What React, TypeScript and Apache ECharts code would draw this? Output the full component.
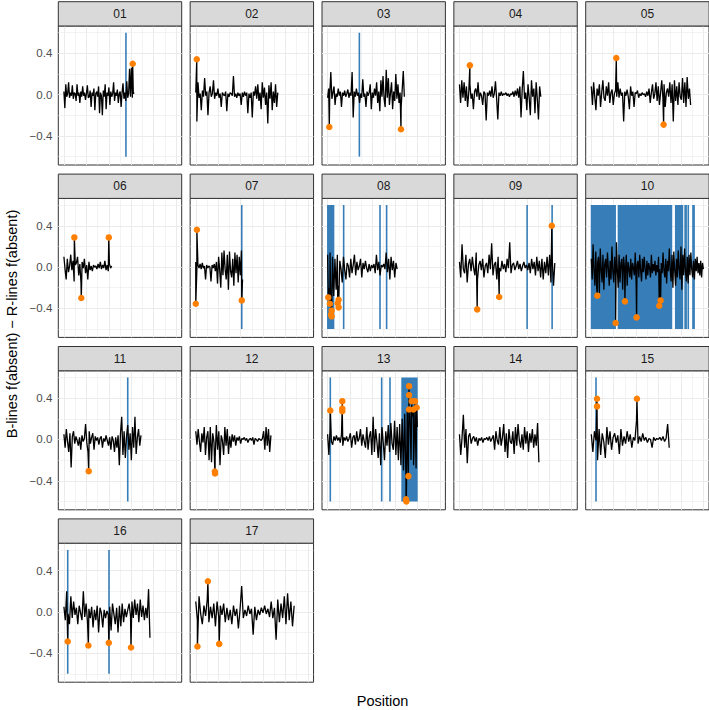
import React, { useEffect, useRef } from "react";
import * as echarts from "echarts";

// ---------------- data ----------------
const panels = ["01","02","03","04","05","06","07","08","09","10","11","12","13","14","15","16","17"];
// relative chromosome length (longest = 1)
const chromEnd = [0.627,0.731,0.684,0.725,0.886,0.426,0.417,0.62,0.85,1.0,0.687,0.67,0.80,0.708,0.695,0.767,0.877];

// difference values along each chromosome, in hundredths (evenly spaced along its length)
const y01 = [3,-13,10,-2,1,12,-3,2,-1,9,-4,2,1,-6,10,-1,2,-8,3,-2,8,-1,2,-5,1,9,-3,-2,4,-12,2,-1,6,-15,1,3,-2,8,-18,2,-1,-20,4,-2,10,-14,2,-1,7,-10,3,-2,1,12,-6,2,-1,5,-8,1,3,-12,2,11,-4,2,-6,13,-3,1,25,-2,26,-3,1,2];
const y02 = [2,-26,12,-3,1,-15,4,-2,16,-1,3,-20,2,8,-2,1,14,-4,2,-1,6,-3,1,-12,2,0,-1,3,-16,1,-2,2,1,-1,18,-2,1,-3,2,-1,1,-10,2,-2,3,-1,2,-18,1,-3,2,-22,3,-1,8,-4,10,-6,2,-14,12,-3,7,-10,2,-28,9,-4,12,-15,3,-8,10,-12,2];
const y03 = [-3,6,-1,22,-4,2,8,-10,1,-2,6,-1,3,-12,2,-1,4,-2,1,5,-3,2,-1,22,-22,3,-2,6,-1,2,-8,1,-3,15,-2,1,-12,3,-1,2,10,-14,2,-3,6,-1,12,-8,3,-16,14,-2,18,-4,-12,24,-3,16,-10,2,12,-14,3,-6,20,-4,10,-8,2,-12,5,23,-2];
const y04 = [10,-8,14,-3,12,-6,8,-12,2,10,-4,1,-14,3,6,-2,12,-5,2,-1,-10,3,1,-25,2,-1,4,-2,8,-3,1,13,-4,-24,2,-1,3,-1,1,0,2,-1,1,-2,1,0,3,-2,4,-1,6,-3,8,-22,5,23,-4,2,-15,10,-3,-20,14,-2,6,-18,12,-4,-24,8,-2];
const y05 = [8,-10,12,-2,-15,6,-1,10,-12,2,14,-3,-6,8,-1,12,-8,2,5,-10,1,4,-2,12,-3,6,-1,2,-26,3,-1,5,-2,-14,8,-1,3,-12,2,1,4,-3,1,-1,2,0,1,-2,3,-1,6,-8,2,10,-4,1,12,-6,8,-10,2,14,-3,10,-12,2,6,-2,12,-8,10,-26,14,-6,8,-10,12,-2,-5,16,-8,12,-12,17,-4,6,-10];
const y06 = [10,-2,-12,8,-5,1,12,-3,6,-14,2,4,10,-8,3,-15,5,-1,8,-6,2,-12,5,-3,1,-4,2,0,1,-2,3,-1,5,-2,2,-1,6,-3,2,-4,3,-1,1];
const y07 = [5,-3,2,-1,3,-2,4,-1,1,-12,2,-1,1,0,-14,2,-1,3,-4,5,-16,10,-3,-20,14,-8,16,-2,-12,12,-22,15,-4,-10,8,-18,14,-6,12,-15,10,-8,16,-12];
const y08 = [12,-20,14,-25,10,-28,8,-22,12,-18,6,-2,-15,10,-3,-12,4,1,-10,8,-6,2,12,-8,5,-3,1,8,-10,4,-2,6,-1,-5,3,-4,2,-1,3,-6,12,-3,5,-8,2,0,3,-2,14,-5,8,-12,10,-3,6,-10,4,-2];
const y09 = [5,-10,22,-2,-6,12,-15,3,8,-4,10,-1,-8,14,-12,2,6,-3,8,-10,1,4,-6,12,-2,23,-8,2,5,-12,10,-1,-4,6,-2,3,-5,8,-1,24,-6,2,4,-3,1,6,-2,3,-4,1,5,-1,2,-3,4,-6,8,-2,5,-8,10,-4,6,-10,8,-12,5,-6,10,-8,12,-15,8,-18,4];
const y10 = [8,-12,22,-3,-18,15,-20,4,10,-25,18,-2,-15,12,-22,3,8,-10,14,-1,-18,6,-12,20,-4,-15,10,-8,24,-2,-20,12,-15,3,8,-22,10,-1,-6,12,-18,5,-2,-10,8,-12,4,-1,-8,14,-16,2,6,-10,12,-3,-14,8,-5,10,-2,-12,6,-8,4,-1,-10,12,-6,3,-4,6,-8,2,-5,10,-2,-12,4,-6,14,-3,-10,8,-16,6,-4,18,-2,-14,12,-20,15,-3,-18,8,-10,16,-2,-12,20,-22,12,-8,18,-4,-14,10,-16,12,-8,14,-2,-10,6,-12,8,-4,10,-6,4,-8,6,-10,4,-2];
const y11 = [5,-8,10,-2,-12,6,-27,3,8,-4,3,-1,-6,2,-10,4,-2,1,15,-3,-12,8,-4,2,6,-10,3,-1,2,-5,1,3,-8,1,-2,4,-1,-6,2,-10,3,-1,-12,2,-8,4,-25,6,22,-15,8,-18,3,14,-10,6,-20,12,-8,22,-14,2,10,-6,4];
const y12 = [8,-5,10,-2,-12,6,-3,12,-15,2,8,-20,12,-22,6,-2,-18,14,-10,8,-25,4,-1,-15,12,-6,10,-14,3,-8,5,-2,4,-6,2,-1,3,-4,1,0,2,-1,1,-3,0,1,-1,2,-5,1,0,-2,1,0,-1,1,8,-10,12,-6,10,-12,4];
const y13 = [5,-15,10,-2,-5,3,-1,4,-1,2,-3,5,-6,2,-1,3,-2,1,6,-8,2,4,-5,8,-2,1,10,-6,5,-2,-8,12,-10,3,8,-15,22,-12,10,-2,-18,6,-25,12,-3,-20,8,-6,14,-12,16,-4,-10,18,-15,12,-20,15,-25,20,-30,25,-40,28,-35,30,-20,22,-25,18,-28,12];
const y14 = [5,-15,2,24,-8,10,-23,3,6,-4,1,3,-2,2,-6,1,-1,2,-3,1,0,2,-1,3,-2,1,4,-10,8,-1,-5,12,-6,2,15,-12,6,-18,10,-2,-4,8,-14,12,-6,15,-1,-8,5,-10,12,-4,8,-12,6,-3,10,-8,5,-6,16,-22];
const y15 = [5,-12,8,-1,-20,10,-15,6,-2,-18,12,-5,8,-10,2,6,-3,4,-14,10,-6,3,-4,8,-2,5,-8,2,-1,18,-4,3,-2,6,-1,2,-3,1,0,-8,2,-1,1,0,2,-1,3,-2,1,15,-8];
const y16 = [5,-8,20,-2,-12,15,-6,10,-3,4,-12,6,-1,-8,20,-5,8,-10,3,-6,5,-15,2,-8,6,-20,4,-1,-15,2,-6,1,-3,5,-18,8,-2,-12,4,-20,6,-14,8,-10,3,-5,2,8,-4,10,-6,12,-3,8,-10,12,-5,6,-8,4,-6,22,-25];
const y17 = [10,-8,15,-2,-12,6,-4,12,-10,5,-6,8,-14,10,-5,6,-3,8,-10,4,-8,2,-12,6,-4,3,-16,2,25,-6,2,-4,6,-2,3,-22,5,-8,2,-3,4,-1,6,-2,3,-5,10,-6,4,-27,12,-10,8,-6,15,-12,18,-8,10,-14,6];
const noise = [y01,y02,y03,y04,y05,y06,y07,y08,y09,y10,y11,y12,y13,y14,y15,y16,y17];

// highlighted extreme points [relative position, value]
const o01 = [[0.613,0.30]];
const o02 = [[0.009,0.343]];
const o03 = [[0.015,-0.313],[0.654,-0.335]];
const o04 = [[0.093,0.284]];
const o05 = [[0.223,0.355],[0.645,-0.29]];
const o06 = [[0.093,0.287],[0.155,-0.30],[0.40,0.287]];
const o07 = [[0,-0.355],[0.01,0.362],[0.41,-0.323]];
const o08 = [[0.006,-0.294],[0.02,-0.355],[0.03,-0.46],[0.036,-0.42],[0.036,-0.477],[0.09,-0.35],[0.098,-0.316],[0.098,-0.39]];
const o09 = [[0.158,-0.41],[0.354,-0.29],[0.823,0.40]];
const o10 = [[0.054,-0.277],[0.217,-0.542],[0.30,-0.332],[0.404,-0.487],[0.606,-0.374],[0.618,-0.323]];
const o11 = [[0.221,-0.307]];
const o12 = [[0.17,-0.31],[0.172,-0.33]];
const o13 = [[0.024,0.28],[0.131,0.371],[0.131,0.30],[0.131,0.274],[0.699,-0.58],[0.702,-0.6],[0.72,-0.355],[0.726,0.516],[0.726,0.429],[0.726,0.29],[0.75,0.371],[0.764,0.29],[0.779,0.371],[0.794,0.31]];
const o14: number[][] = [];
const o15 = [[0.051,0.394],[0.051,0.32],[0.407,0.394]];
const o16 = [[0.034,-0.287],[0.218,-0.326],[0.40,-0.30],[0.598,-0.345]];
const o17 = [[0.015,-0.335],[0.108,0.297],[0.209,-0.31]];
const orange = [o01,o02,o03,o04,o05,o06,o07,o08,o09,o10,o11,o12,o13,o14,o15,o16,o17];

// blue marked regions [start, end] (single lines have start = end)
const b01 = [[0.553,0.553]];
const b03 = [[0.283,0.283]];
const b07 = [[0.41,0.41]];
const b08 = [[-0.005,0.06],[0.143,0.143],[0.467,0.467],[0.526,0.526]];
const b09 = [[0.603,0.603],[0.826,0.826]];
const b10 = [[-0.005,0.22],[0.235,0.722],[0.746,0.82],[0.83,0.853],[0.86,0.87],[0.90,0.924]];
const b11 = [[0.569,0.569]];
const b13 = [[0.024,0.024],[0.482,0.482],[0.556,0.556],[0.657,0.803]];
const b15 = [[0.042,0.042]];
const b16 = [[0.034,0.034],[0.402,0.402]];
const none: number[][] = [];
const blue = [b01,none,b03,none,none,none,b07,b08,b09,b10,b11,none,b13,none,b15,b16,none];

const gridX = [0,0.1,0.2,0.3,0.4,0.5,0.6,0.7,0.8,0.9,1.0];
const gridY = [-0.6,-0.4,-0.2,0,0.2,0.4,0.6];
const majorY = [-0.4,0,0.4];
const yTickValues = [-0.4,0,0.4];

const yTitle = "B-lines f(absent) \u2212 R-lines f(absent)";
const xTitle = "Position";

// ---------------- layout ----------------
const FONT = "'Liberation Sans', Arial, Helvetica, sans-serif";
const LEFT0 = 58.3, COLW = 131.85, PW = 123.4;
const ROWH = 172.4, STRIP_TOP = 1.7, STRIP_H = 24.3, PH = 139;
const Y_MIN = -0.681, Y_MAX = 0.665;

function fmt(v: number) {
  if (Math.abs(v) < 1e-9) return "0.0";
  return (v < 0 ? "\u2212" : "") + Math.abs(v).toFixed(1);
}

export default function App() {
  const ref = useRef<HTMLDivElement>(null);
  useEffect(() => {
    if (!ref.current) return;
    const chart = echarts.init(ref.current, null, { renderer: "svg" });
    const grids: any[] = [], xAxes: any[] = [], yAxes: any[] = [], series: any[] = [], graphics: any[] = [];

    panels.forEach((name, i) => {
      const r = Math.floor(i / 5), c = i % 5;
      const left = LEFT0 + c * COLW;
      const top = STRIP_TOP + STRIP_H + r * ROWH;
      grids.push({ left, top, width: PW, height: PH, show: true, backgroundColor: "#ffffff", borderColor: "#333333", borderWidth: 1, containLabel: false });
      xAxes.push({ type: "value", gridIndex: i, min: -0.05, max: 1.05, show: false });
      yAxes.push({
        type: "value", gridIndex: i, min: Y_MIN, max: Y_MAX,
        axisLine: { show: false },
        splitLine: { show: false },
        axisTick: { show: c === 0, customValues: yTickValues, length: 3, lineStyle: { color: "#333333", width: 1 } },
        axisLabel: { show: c === 0, customValues: yTickValues, formatter: (v: number) => fmt(v), color: "#4D4D4D", fontSize: 11.5, fontFamily: FONT, margin: 6 },
      });

      // background grid lines
      const ml: any[] = [];
      gridX.forEach((x, k) => ml.push({ xAxis: x, lineStyle: { color: "#EBEBEB", width: k % 2 === 0 ? 1 : 0.6, type: "solid" } }));
      gridY.forEach((y) => ml.push({ yAxis: y, lineStyle: { color: "#EBEBEB", width: majorY.includes(y) ? 1 : 0.6, type: "solid" } }));
      series.push({
        type: "line", xAxisIndex: i, yAxisIndex: i, data: [], z: 1, silent: true,
        markLine: { silent: true, z: 1, symbol: ["none", "none"], label: { show: false }, animation: false, data: ml },
      });

      // blue regions
      series.push({
        type: "custom", xAxisIndex: i, yAxisIndex: i, z: 2, silent: true, clip: true,
        data: blue[i],
        renderItem: (params: any, api: any) => {
          const p0 = api.coord([api.value(0), 0.6]);
          const p1 = api.coord([api.value(1), -0.6]);
          let x = p0[0];
          let w = p1[0] - p0[0];
          const minW = 1.6;
          if (w < minW) { x = (p0[0] + p1[0]) / 2 - minW / 2; w = minW; }
          return { type: "rect", shape: { x, y: p0[1], width: w, height: p1[1] - p0[1] }, style: { fill: "#377EB8" } };
        },
      });

      // black trace
      const n = noise[i].length;
      const pts: number[][] = noise[i].map((v, k) => [(k / (n - 1)) * chromEnd[i], v / 100]);
      orange[i].forEach((p) => pts.push([p[0], p[1]]));
      pts.sort((a, b) => a[0] - b[0]);
      series.push({
        type: "line", xAxisIndex: i, yAxisIndex: i, data: pts, z: 3, silent: true,
        showSymbol: false, symbol: "none", lineStyle: { color: "#000000", width: 1.3 },
      });

      // orange points
      series.push({
        type: "scatter", xAxisIndex: i, yAxisIndex: i, data: orange[i], z: 4, silent: true,
        symbol: "circle", symbolSize: 6.5, itemStyle: { color: "#FF7F00", opacity: 1 },
      });

      // strip
      const sy = STRIP_TOP + r * ROWH;
      graphics.push({ type: "rect", shape: { x: left, y: sy, width: PW, height: STRIP_H }, style: { fill: "#D9D9D9", stroke: "#333333", lineWidth: 1 }, z: 10 });
      graphics.push({ type: "text", x: left + PW / 2, y: sy + STRIP_H / 2, style: { text: name, fill: "#1A1A1A", font: `12px ${FONT}`, align: "center", verticalAlign: "middle" }, z: 11 });
    });

    graphics.push({ type: "text", x: 12, y: 324, rotation: Math.PI / 2, style: { text: yTitle, fill: "#000000", font: `14.5px ${FONT}`, align: "center", verticalAlign: "middle" }, z: 11 });
    graphics.push({ type: "text", x: 382.6, y: 701, style: { text: xTitle, fill: "#000000", font: `14.5px ${FONT}`, align: "center", verticalAlign: "middle" }, z: 11 });

    chart.setOption({
      animation: false,
      backgroundColor: "#ffffff",
      grid: grids,
      xAxis: xAxes,
      yAxis: yAxes,
      series,
      graphic: { elements: graphics },
    });
    return () => chart.dispose();
  }, []);
  return <div ref={ref} style={{ position: "fixed", left: 0, top: 0, width: 709, height: 710 }} />;
}
